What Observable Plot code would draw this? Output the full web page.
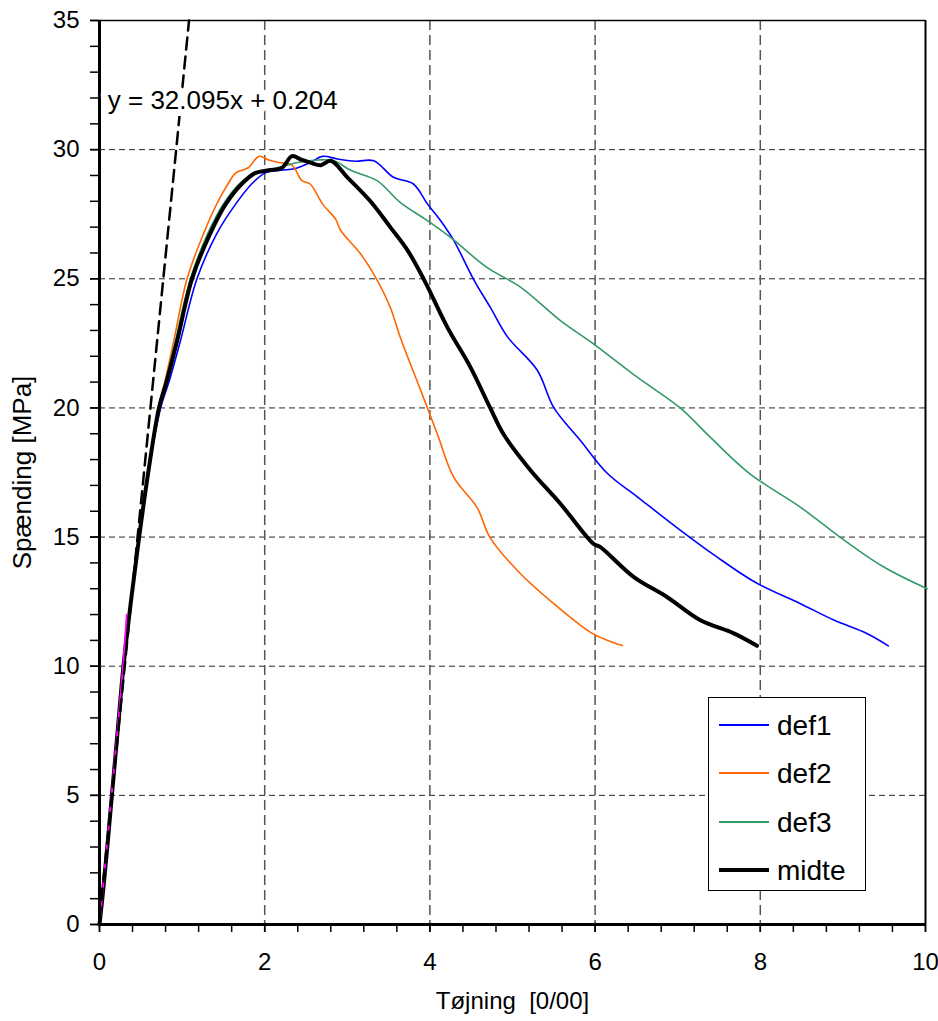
<!DOCTYPE html>
<html><head><meta charset="utf-8">
<script src="https://cdn.jsdelivr.net/npm/d3@7"></script>
<script src="https://cdn.jsdelivr.net/npm/@observablehq/plot@0.6"></script>
<style>
body{margin:0;background:#fff;font-family:"Liberation Sans",Arial,sans-serif;}
#wrap{position:relative;width:938px;height:1021px;}
#legend{position:absolute;left:708px;top:697px;width:156px;height:192px;border:1px solid #000;background:#fff;}
</style>
</head><body>
<div id="wrap"><div id="legend"></div></div>
<script>
// ---- data (strain [0/00], stress [MPa]) ----
const riseX = [0, 0.05, 0.10, 0.15, 0.22, 0.29, 0.38, 0.48, 0.59];
const riseY = [0, 1.5, 3.2, 5.0, 7.5, 10.0, 12.5, 15.0, 17.5];

const def1X = [0.74, 0.84, 0.98, 1.18, 1.42, 1.65, 1.85, 2.01, 2.20, 2.37, 2.55, 2.70, 2.88, 3.10, 3.32, 3.56, 3.80, 3.97, 4.13, 4.29, 4.53, 4.73, 4.94, 5.30, 5.50, 5.82, 6.15, 6.51, 7.03, 7.47, 7.96, 8.48, 8.89, 9.29, 9.55];
const def1Y = [20.0, 21.0, 22.6, 25.0, 26.75, 27.9, 28.7, 29.1, 29.2, 29.27, 29.5, 29.74, 29.64, 29.55, 29.57, 28.93, 28.67, 27.9, 27.25, 26.48, 24.97, 23.9, 22.75, 21.46, 20.01, 18.75, 17.46, 16.56, 15.27, 14.24, 13.21, 12.43, 11.79, 11.27, 10.79];

const def2X = [0.71, 0.79, 0.90, 1.06, 1.26, 1.42, 1.56, 1.65, 1.80, 1.93, 2.05, 2.17, 2.33, 2.45, 2.55, 2.70, 2.86, 2.92, 3.16, 3.36, 3.52, 3.64, 3.89, 4.09, 4.29, 4.57, 4.73, 5.10, 5.50, 5.94, 6.15, 6.33];
const def2Y = [20.0, 21.0, 22.6, 25.0, 26.75, 27.9, 28.7, 29.1, 29.3, 29.74, 29.6, 29.5, 29.4, 28.8, 28.67, 27.9, 27.3, 26.87, 25.97, 24.96, 23.9, 22.75, 20.67, 18.99, 17.31, 16.15, 14.97, 13.57, 12.42, 11.32, 11.0, 10.8];

const def3X = [0.72, 0.80, 0.92, 1.10, 1.31, 1.50, 1.70, 1.88, 2.10, 2.40, 2.65, 2.84, 3.04, 3.36, 3.64, 3.97, 4.25, 4.69, 5.10, 5.58, 5.98, 6.51, 7.03, 7.39, 7.87, 8.48, 8.96, 9.49, 10.02];
const def3Y = [20.0, 21.0, 22.6, 25.0, 26.75, 27.9, 28.7, 29.1, 29.25, 29.5, 29.6, 29.57, 29.2, 28.8, 27.96, 27.25, 26.6, 25.44, 24.67, 23.38, 22.48, 21.19, 20.0, 18.88, 17.46, 16.17, 15.01, 13.85, 13.0];

const midteX = [0.72, 0.81, 0.94, 1.12, 1.34, 1.53, 1.73, 1.89, 2.05, 2.21, 2.33, 2.45, 2.55, 2.68, 2.80, 3.00, 3.28, 3.52, 3.73, 3.93, 4.21, 4.49, 4.73, 4.89, 5.22, 5.58, 5.98, 6.06, 6.47, 6.87, 7.27, 7.68, 7.96];
const midteY = [20.0, 21.0, 22.6, 25.0, 26.75, 27.9, 28.7, 29.1, 29.2, 29.3, 29.75, 29.6, 29.5, 29.4, 29.57, 28.93, 28.0, 27.0, 26.1, 24.96, 23.13, 21.58, 20.0, 18.99, 17.58, 16.29, 14.74, 14.62, 13.45, 12.68, 11.79, 11.27, 10.79];

const fitX = [0, 0.05, 0.10, 0.16, 0.22, 0.28, 0.33];
const fitY = [0, 1.7, 3.4, 5.5, 7.6, 9.8, 12.0];

const trendX = [0, 1.084];
const trendY = [0.204, 35];
const trendLabel = "y = 32.095x + 0.204";

const seriesNames = ["def1", "def2", "def3", "midte"];
const seriesColors = ["#0000ff", "#ff6600", "#339966", "#000000"];
const seriesWidths = [1.6, 1.6, 1.6, 4];

const xTicks = [0, 2, 4, 6, 8, 10];
const yTicks = [0, 5, 10, 15, 20, 25, 30, 35];
const xMinor = d3.range(0, 26).map(i => i * 0.4);
const yMinor = d3.range(0, 36);
const xLabel = "Tøjning\u00a0 [0/00]";
const yLabel = "Spænding [MPa]";

// ---- build tables ----
const pts = (xs, ys) => xs.map((x, i) => ({x, y: ys[i]}));
const withRise = (xs, ys) => pts(riseX, riseY).concat(pts(xs, ys));
const curves = [
  withRise(def1X, def1Y),
  withRise(def2X, def2Y),
  withRise(def3X, def3Y),
  withRise(midteX, midteY)
];

const chart = Plot.plot({
  width: 938, height: 1021,
  marginLeft: 99, marginRight: 13, marginTop: 20, marginBottom: 97,
  style: {fontFamily: "'Liberation Sans', Arial, sans-serif", fontSize: "24px", background: "#fff", color: "#000"},
  x: {domain: [0, 10]},
  y: {domain: [0, 35]},
  marks: [
    Plot.gridY(yTicks.slice(1, -1), {stroke: "#000", strokeOpacity: 0.85, strokeDasharray: "6,4", strokeWidth: 1}),
    Plot.gridX(xTicks.slice(1, -1), {stroke: "#555", strokeOpacity: 1, strokeDasharray: "10,5", strokeWidth: 1.5}),
    Plot.axisY(yMinor, {tickSize: 9, tickFormat: () => "", strokeWidth: 1.5, label: null}),
    Plot.axisY(yTicks, {tickSize: 9, tickPadding: 11, strokeWidth: 1.5, label: null}),
    Plot.axisX(xMinor, {tickSize: 8, tickFormat: () => "", strokeWidth: 1.5, label: null}),
    Plot.axisX(xTicks, {tickSize: 8, tickPadding: 20, strokeWidth: 1.5, label: null}),
    Plot.ruleY([35], {stroke: "#000", strokeWidth: 1.5}),
    Plot.ruleX([10], {stroke: "#000", strokeWidth: 2}),
    ...curves.map((c, i) => Plot.line(c, {x: "x", y: "y", stroke: seriesColors[i], strokeWidth: seriesWidths[i], strokeLinejoin: "round", curve: "catmull-rom"})),
    Plot.line(pts(fitX, fitY), {x: "x", y: "y", stroke: "#ff00ff", strokeWidth: 1.8}),
    Plot.line(pts(trendX, trendY), {x: "x", y: "y", stroke: "#000", strokeWidth: 2.5, strokeDasharray: "12,7"}),
    Plot.ruleX([0], {stroke: "#000", strokeWidth: 3}),
    Plot.ruleY([0], {stroke: "#000", strokeWidth: 3}),
    Plot.text([{x: 0.1, y: 31.9, t: trendLabel}], {x: "x", y: "y", text: "t", textAnchor: "start", fontSize: 26, fill: "#000", stroke: "#fff", strokeWidth: 14, paintOrder: "stroke"}),
    Plot.text([xLabel], {text: d => d, frameAnchor: "bottom", dy: 84, fontSize: 24}),
    Plot.text([yLabel], {text: d => d, frameAnchor: "left", textAnchor: "middle", rotate: -90, dx: -77, fontSize: 26})
  ]
});
document.getElementById("wrap").prepend(chart);

// ---- legend ----
const lg = d3.select("#legend").append("svg").attr("width", 156).attr("height", 192)
  .style("font-family", "'Liberation Sans', Arial, sans-serif");
const rowY = [27, 75, 124, 172];
seriesNames.forEach((n, i) => {
  lg.append("line").attr("x1", 10).attr("x2", 60).attr("y1", rowY[i]).attr("y2", rowY[i])
    .attr("stroke", seriesColors[i]).attr("stroke-width", i === 3 ? 4 : 2);
  lg.append("text").attr("x", 68).attr("y", rowY[i]).attr("dy", "0.36em")
    .attr("font-size", 28).text(n);
});
</script>
</body></html>
